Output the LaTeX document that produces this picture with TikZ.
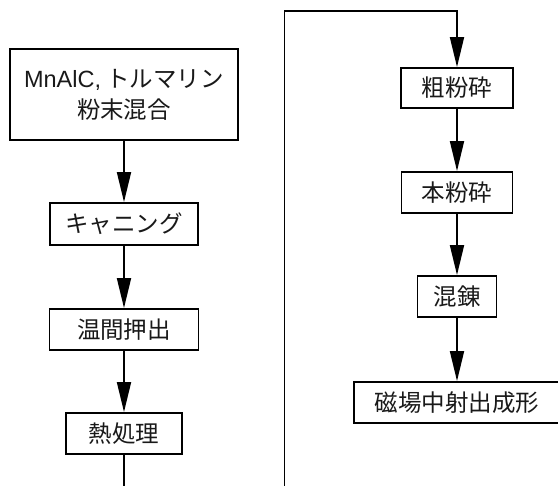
\documentclass[tikz,border=0pt]{standalone}
\usepackage{fontspec}
\setmainfont{Liberation Sans}
\newfontfamily\jp{Noto Sans CJK JP}
\usetikzlibrary{arrows.meta}
\tikzset{
  x=1pt,y=-1pt,
  box/.style={draw,line width=1.9pt,inner sep=0pt,align=center,font=\jp\fontsize{23.5}{31}\selectfont,text=black!90},
  arr/.style={line width=1.9pt,-{Triangle[length=30pt,width=14pt]}},
  ln/.style={line width=1.9pt}
}
\begin{document}
\begin{tikzpicture}
\useasboundingbox (0,0) rectangle (558,486);
\node[box,minimum width=228pt,minimum height=91pt] (A) at (124,94.5) {{\fontspec{Liberation Sans}MnAlC,} トルマリン\\粉末混合};
\node[box,minimum width=148pt,minimum height=42pt] (B) at (124,224) {キャニング};
\node[box,minimum width=149pt,minimum height=41pt] (C) at (124,329.5) {温間押出};
\node[box,minimum width=116pt,minimum height=41pt] (D) at (124,433.5) {熱処理};
\node[box,minimum width=112pt,minimum height=40pt] (E) at (457,88) {粗粉砕};
\node[box,minimum width=111pt,minimum height=41pt] (F) at (457,192.5) {本粉砕};
\node[box,minimum width=79pt,minimum height=41pt] (G) at (457,296.5) {混錬};
\node[box,minimum width=206pt,minimum height=41pt] (H) at (457,402.5) {磁場中射出成形};
\coordinate (b1) at (124,490);
\coordinate (b2) at (284.5,490);
\coordinate (t) at (284.5,11);
\draw[arr] (A) -- (B);
\draw[arr] (B) -- (C);
\draw[arr] (C) -- (D);
\draw[ln] (D) -- (b1);
\draw[arr] (b2) -- (t) -| (E);
\draw[arr] (E) -- (F);
\draw[arr] (F) -- (G);
\draw[arr] (G) -- (H);
\end{tikzpicture}
\end{document}
